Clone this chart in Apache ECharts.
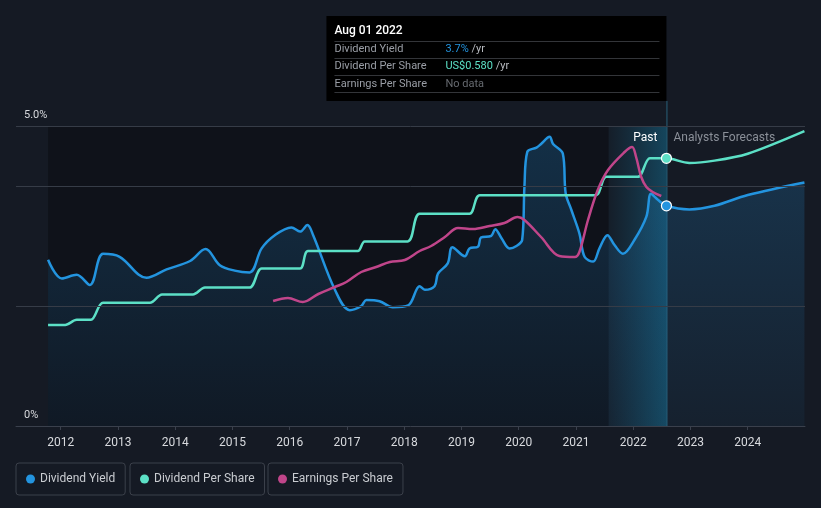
<!DOCTYPE html>
<html>
<head>
<meta charset="utf-8">
<script src="https://cdn.jsdelivr.net/npm/echarts@6/dist/echarts.min.js"></script>
<style>
html,body{margin:0;padding:0;background:#151a24;}
#chart{width:821px;height:508px;}
</style>
</head>
<body>
<div id="chart"></div>
<script>
// ---- data (fractional years) ----
const yearTicks = [2012,2013,2014,2015,2016,2017,2018,2019,2020,2021,2022,2023,2024];

const yieldYears = [2011.78,2012.02,2012.28,2012.51,2012.74,2013.03,2013.50,2013.85,2014.26,2014.53,2014.78,2015.04,2015.30,2015.51,2015.74,2016.03,2016.18,2016.31,2016.41,2016.79,2017.05,2017.25,2017.34,2017.57,2017.80,2018.07,2018.27,2018.36,2018.53,2018.59,2018.76,2018.84,2019.06,2019.14,2019.29,2019.34,2019.52,2019.59,2019.70,2019.84,2019.96,2020.06,2020.10,2020.15,2020.31,2020.39,2020.54,2020.60,2020.77,2020.82,2020.92,2021.06,2021.15,2021.30,2021.41,2021.55,2021.67,2021.82,2022.02,2022.23,2022.31,2022.43,2022.58,2022.98,2023.42,2024.00,2024.99];
const yieldValues = [2.77,2.46,2.52,2.35,2.87,2.82,2.47,2.61,2.75,2.95,2.68,2.59,2.56,2.96,3.18,3.31,3.24,3.35,3.18,2.27,1.93,2.00,2.10,2.08,1.98,2.01,2.33,2.27,2.33,2.54,2.71,2.98,2.83,2.96,2.99,3.14,3.17,3.28,3.13,2.96,3.00,3.10,3.99,4.57,4.64,4.70,4.82,4.70,4.54,3.88,3.60,3.21,2.82,2.74,2.96,3.18,3.02,2.87,3.10,3.49,3.87,3.77,3.67,3.61,3.67,3.85,4.06];

const dpsYears = [2011.78,2012.08,2012.28,2012.53,2012.74,2013.56,2013.77,2014.31,2014.52,2015.30,2015.51,2016.18,2016.32,2017.19,2017.31,2018.06,2018.27,2019.14,2019.32,2021.34,2021.53,2022.08,2022.29,2022.58,2022.98,2023.42,2024.00,2024.99];
const dpsValues = [0.219,0.219,0.23,0.23,0.267,0.267,0.285,0.285,0.30,0.30,0.341,0.341,0.379,0.379,0.40,0.40,0.46,0.46,0.50,0.50,0.54,0.54,0.58,0.58,0.57,0.575,0.59,0.639];

const epsYears = [2015.71,2015.97,2016.23,2016.50,2016.79,2016.99,2017.25,2017.51,2017.75,2018.01,2018.27,2018.47,2018.71,2018.94,2019.20,2019.49,2019.75,2019.98,2020.10,2020.39,2020.71,2020.98,2021.06,2021.21,2021.38,2021.56,2021.85,2021.98,2022.05,2022.14,2022.23,2022.34,2022.49];
const epsValues = [1.25,1.28,1.24,1.32,1.39,1.44,1.54,1.59,1.64,1.66,1.75,1.80,1.89,1.98,1.97,2.00,2.03,2.09,2.06,1.89,1.70,1.69,1.74,2.06,2.36,2.56,2.74,2.79,2.69,2.49,2.39,2.34,2.30];

const pastStart = 2021.57;   // start of last-12-months band
const nowYear = 2022.58;     // Aug 01 2022
const nowLabel = 'Aug 01 2022';

// ---- build ----
const C_YIELD = '#2394df', C_DPS = '#5ce0c6', C_EPS = '#c0458a';
const FONT = 'Roboto, "Noto Sans", sans-serif';

function pairs(xs, ys, dotColor) {
  return xs.map((x, i) => {
    if (dotColor && Math.abs(x - nowYear) < 1e-6) {
      return {value: [x, ys[i]], symbol: 'circle', symbolSize: 10,
              itemStyle: {color: dotColor, borderColor: '#ffffff', borderWidth: 1.2}};
    }
    return [x, ys[i]];
  });
}

const chart = echarts.init(document.getElementById('chart'), null, {renderer: 'canvas'});

const option = {
  backgroundColor: '#151a24',
  animation: false,
  textStyle: {fontFamily: FONT},
  grid: {left: 16, right: 16, top: 126, bottom: 82},
  xAxis: {
    type: 'value', min: 2011.22, max: 2025.0,
    axisLine: {lineStyle: {color: '#3a404c', width: 1}},
    axisTick: {show: true, customValues: yearTicks, length: 4, lineStyle: {color: '#3a404c'}},
    axisLabel: {customValues: yearTicks, color: '#d8dade', fontSize: 12, margin: 11, fontFamily: FONT,
                formatter: v => String(Math.round(v))},
    splitLine: {show: false}
  },
  yAxis: [
    {type: 'value', min: 0, max: 5, position: 'left',
     axisLine: {show: false}, axisTick: {show: false}, splitLine: {show: false},
     axisLabel: {inside: true, customValues: [0, 5], margin: 8, color: '#d8dade', fontSize: 11,
                 verticalAlign: 'bottom', padding: [0, 0, 5, 0],
                 formatter: v => v === 0 ? '0%' : v.toFixed(1) + '%'}},
    {type: 'value', min: 0, max: 0.65, show: false},
    {type: 'value', min: 0, max: 3.0, show: false}
  ],
  legend: [
    {data: ['Dividend Yield'], left: 16, top: 463},
    {data: ['Dividend Per Share'], left: 130, top: 463},
    {data: ['Earnings Per Share'], left: 268, top: 463}
  ].map(l => Object.assign(l, {
    icon: 'circle', itemWidth: 9, itemHeight: 9, itemGap: 6,
    borderColor: '#3b404a', borderWidth: 1, borderRadius: 3, padding: [10, 10, 10, 10],
    selectedMode: false,
    textStyle: {color: '#c9ccd1', fontSize: 12, fontFamily: FONT}
  })),
  series: [
    {
      name: 'bands', type: 'line', z: 1, silent: true, symbol: 'none',
      data: [[2011.78, 0]], lineStyle: {opacity: 0},
      markArea: {
        silent: true,
        data: [
          [{xAxis: 2011.78, itemStyle: {color: 'rgba(0,0,0,0.28)'}}, {xAxis: pastStart}],
          [{xAxis: pastStart, name: 'Past',
            itemStyle: {color: {type: 'linear', x: 0, y: 0, x2: 1, y2: 0,
              colorStops: [{offset: 0, color: 'rgba(20,150,200,0.03)'}, {offset: 1, color: 'rgba(20,160,210,0.32)'}]}},
            label: {show: true, position: 'insideTopRight', distance: 6, offset: [-3, 0], color: '#ffffff', fontSize: 12, fontFamily: FONT}},
           {xAxis: nowYear}],
          [{xAxis: nowYear, name: 'Analysts Forecasts', itemStyle: {color: 'rgba(0,0,0,0)'},
            label: {show: true, position: 'insideTopLeft', distance: 6, offset: [1, 0], color: '#8b9099', fontSize: 12, fontFamily: FONT}},
           {xAxis: 2024.99}]
        ]
      },
      markLine: {
        silent: true, symbol: 'none', label: {show: false},
        lineStyle: {color: '#363c47', type: 'solid', width: 1},
        data: [{yAxis: 2}, {yAxis: 4}, {yAxis: 5}]
      }
    },
    {
      name: 'Dividend Yield', type: 'line', yAxisIndex: 0, z: 3,
      smooth: 0.35, showSymbol: true, symbol: 'none',
      color: C_YIELD,
      lineStyle: {color: C_YIELD, width: 2.5},
      areaStyle: {color: {type: 'linear', x: 0, y: 0, x2: 0, y2: 1,
        colorStops: [{offset: 0, color: 'rgba(35,148,223,0.32)'}, {offset: 1, color: 'rgba(35,148,223,0.08)'}]}},
      data: pairs(yieldYears, yieldValues, C_YIELD)
    },
    {
      name: 'Dividend Per Share', type: 'line', yAxisIndex: 1, z: 4,
      smooth: 0.3, showSymbol: true, symbol: 'none',
      color: C_DPS,
      lineStyle: {color: C_DPS, width: 2.5},
      data: pairs(dpsYears, dpsValues, C_DPS)
    },
    {
      name: 'Earnings Per Share', type: 'line', yAxisIndex: 2, z: 5,
      smooth: 0.35, symbol: 'none',
      color: C_EPS,
      lineStyle: {color: C_EPS, width: 2.5},
      data: pairs(epsYears, epsValues, null)
    }
  ]
};
chart.setOption(option);

// ---- fixed tooltip box anchored on the "now" line ----
const px = chart.convertToPixel({xAxisIndex: 0}, nowYear);
const yBottom = chart.convertToPixel({yAxisIndex: 0}, 0);
const yNow = yieldValues[yieldYears.indexOf(nowYear)];
const dNow = dpsValues[dpsYears.indexOf(nowYear)];
const boxW = 340, boxTop = 16, boxH = 85;
const bx = px - boxW;
const g = [];
g.push({type: 'line', silent: true, z: 0, shape: {x1: px + 0.5, y1: boxTop + boxH, x2: px + 0.5, y2: yBottom},
        style: {stroke: 'rgba(45,120,150,0.75)', lineWidth: 1}});
g.push({type: 'rect', silent: true, z: 10, shape: {x: bx, y: boxTop, width: boxW, height: boxH}, style: {fill: '#000000'}});
g.push({type: 'text', silent: true, z: 11, x: bx + 8, y: 31,
        style: {text: nowLabel, fill: '#ffffff', font: '500 12px ' + FONT, verticalAlign: 'middle'}});
[41.5, 58.5, 75.5, 92.5].forEach(y => g.push({type: 'line', silent: true, z: 11,
        shape: {x1: bx + 8, y1: y, x2: px - 7, y2: y}, style: {stroke: '#333539', lineWidth: 1}}));
const rows = [
  ['Dividend Yield', '{v|' + yNow.toFixed(1) + '%} {u|/yr}', C_YIELD],
  ['Dividend Per Share', '{v|US$' + dNow.toFixed(3) + '} {u|/yr}', C_DPS],
  ['Earnings Per Share', '{n|No data}', '#666']
];
[49.5, 66.5, 84].forEach((y, i) => {
  g.push({type: 'text', silent: true, z: 11, x: bx + 8, y: y,
          style: {text: rows[i][0], fill: '#9a9ea6', font: '11px ' + FONT, verticalAlign: 'middle'}});
  g.push({type: 'text', silent: true, z: 11, x: bx + 119, y: y,
          style: {text: rows[i][1], verticalAlign: 'middle', font: '11px ' + FONT,
                  rich: {v: {fill: rows[i][2], font: '11px ' + FONT},
                         u: {fill: '#b8bbc0', font: '11px ' + FONT},
                         n: {fill: '#666a70', font: '11px ' + FONT}}}});
});
chart.setOption({graphic: g});
</script>
</body>
</html>
